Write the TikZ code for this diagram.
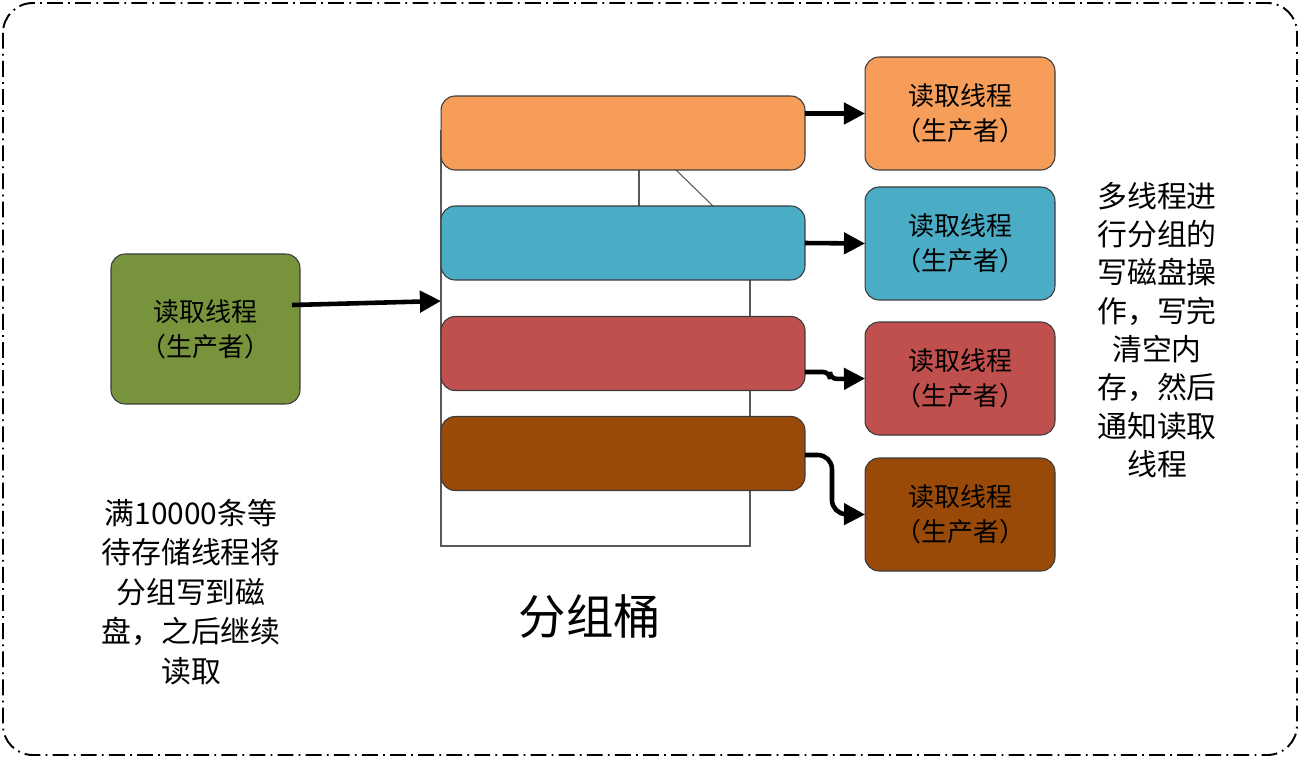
\documentclass[tikz,border=0pt]{standalone}
\usepackage{fontspec}
\setmainfont{Noto Sans CJK SC}
\usetikzlibrary{arrows.meta,calc}
\definecolor{cgreen}{HTML}{77933C}
\definecolor{corange}{HTML}{F69D59}
\definecolor{cblue}{HTML}{4BACC6}
\definecolor{cred}{HTML}{C0504D}
\definecolor{cbrown}{HTML}{9A4A08}
\definecolor{edge}{HTML}{3A3A3A}
\begin{document}
\begin{tikzpicture}[x=0.02cm,y=-0.02cm,
  bar/.style={draw=edge,line width=0.6pt,rounded corners=8pt,inner sep=0pt,outer sep=0pt,minimum width=7.28cm,minimum height=1.48cm},
  rbox/.style={draw=edge,line width=0.6pt,rounded corners=8pt,inner sep=0pt,outer sep=0pt,minimum width=3.8cm,minimum height=2.26cm,align=center,font=\fontsize{14.8}{20}\selectfont},
  arr/.style={line width=2.6pt,-{Triangle[length=12pt,width=12pt]}},
  binline/.style={draw=black!65,line width=0.6pt},
  note/.style={align=center,font=\fontsize{17}{22.5}\selectfont}]
\useasboundingbox (0,0) rectangle (1300,758);
% outer frame
\draw[line width=1.1pt,rounded corners=17pt,dash pattern=on 9pt off 3pt on 1pt off 3pt] (3,3) rectangle (1297,755);
% bucket outline
\draw[binline] (441,130) -- (441,546) -- (750,546) -- (750,280);
\draw[binline] (639,170) -- (639,206);
\draw[binline] (676,170) -- (713,206);
\coordinate (bin) at (441,301);
% bars
\node[bar,fill=corange] (b1) at (623,133) {};
\node[bar,fill=cblue] (b2) at (623,243) {};
\node[bar,fill=cred] (b3) at (623,353.5) {};
\node[bar,fill=cbrown] (b4) at (623,453.5) {};
% producer (left)
\node[rbox,fill=cgreen,minimum width=3.78cm,minimum height=3cm] (g) at (205.5,329) {读取线程\\（生产者）};
% right boxes
\node[rbox,fill=corange] (r1) at (960,113.5) {读取线程\\（生产者）};
\node[rbox,fill=cblue] (r2) at (960,243.5) {读取线程\\（生产者）};
\node[rbox,fill=cred] (r3) at (960,378.5) {读取线程\\（生产者）};
\node[rbox,fill=cbrown] (r4) at (960,514.5) {读取线程\\（生产者）};
% arrows
\draw[arr] ($(g.east)+(-8,-24)$) -- (bin);
\draw[arr] (b1.east |- r1.west) -- (r1.west);
\draw[arr] (b2.east) -- (r2.west);
\draw[arr,rounded corners=4pt] ($(b3.east)+(0,18.5)$) -- ++(25,0) -- ++(0,7) -- (r3.west);
\draw[arr,rounded corners=8pt] ($(b4.east)+(0,1.5)$) -- ++(27,0) -- ++(0,59) -- (r4.west);
% texts
\node[font=\fontsize{27}{32}\selectfont] (title) at (590,617) {分组桶};
\node[note] (lt) at (191,592) {满10000条等\\待存储线程将\\分组写到磁\\盘，之后继续\\读取};
\node[note,font=\fontsize{17}{21.8}\selectfont] (rt) at (1157,330) {多线程进\\行分组的\\写磁盘操\\作，写完\\清空内\\存，然后\\通知读取\\线程};
\end{tikzpicture}
\end{document}
